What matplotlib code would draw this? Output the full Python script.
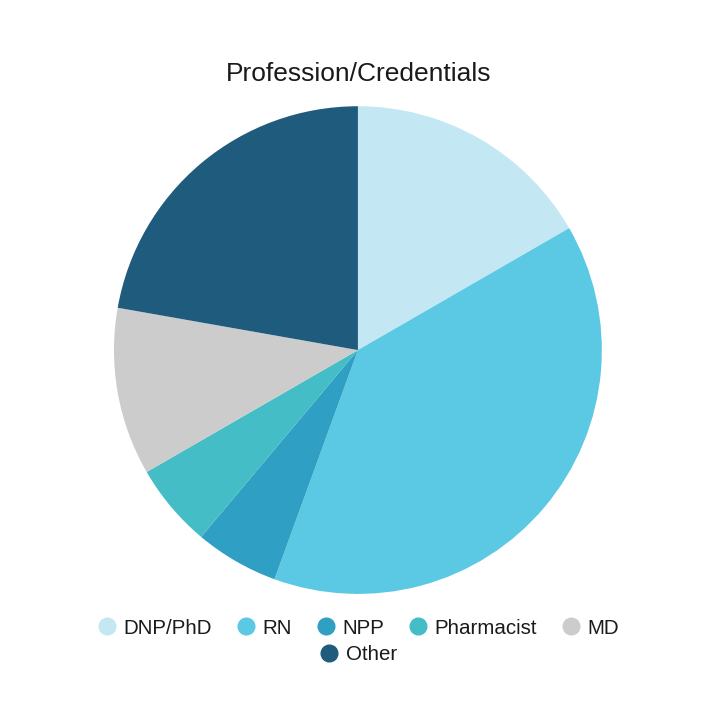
import matplotlib

matplotlib.use("Agg")
import matplotlib.pyplot as plt
from matplotlib.lines import Line2D

# Survey counts (shares of 36 respondents)
labels = ["DNP/PhD", "RN", "NPP", "Pharmacist", "MD", "Other"]
counts = [6, 14, 2, 2, 4, 8]
colors = ["#c3e7f3", "#5bc8e4", "#2f9fc3", "#45bdc6", "#cccccc", "#1e5b7d"]

plt.rcParams["font.family"] = ["Liberation Sans", "DejaVu Sans"]

fig = plt.figure(figsize=(7.26, 7.13), dpi=100)
ax = fig.add_axes([0.157, 0.167, 0.672, 0.684])
ax.pie(counts, colors=colors, startangle=90, counterclock=False,
       wedgeprops={"linewidth": 0})
ax.set_aspect("auto")
ax.set_xlim(-1, 1)
ax.set_ylim(-1, 1)
ax.axis("off")

fig.text(0.494, 0.896, "Profession/Credentials", ha="center", va="center",
         fontsize=19, color="#1a1a1a")

# legend: five items on the first row, the last one centred below
handles = [Line2D([], [], marker="o", linestyle="none", markersize=12,
                  markerfacecolor=c, markeredgecolor=c) for c in colors]
kw = dict(frameon=False, fontsize=14.8, handletextpad=0.3, columnspacing=1.15,
          handlelength=1.0, labelcolor="#1a1a1a")
fig.legend(handles[:5], labels[:5], loc="center", ncol=5,
           bbox_to_anchor=(0.493, 0.119), **kw)
fig.legend(handles[5:], labels[5:], loc="center", ncol=1,
           bbox_to_anchor=(0.493, 0.082), **kw)

fig.savefig("out.png", dpi=100, facecolor="white")
plt.close(fig)
